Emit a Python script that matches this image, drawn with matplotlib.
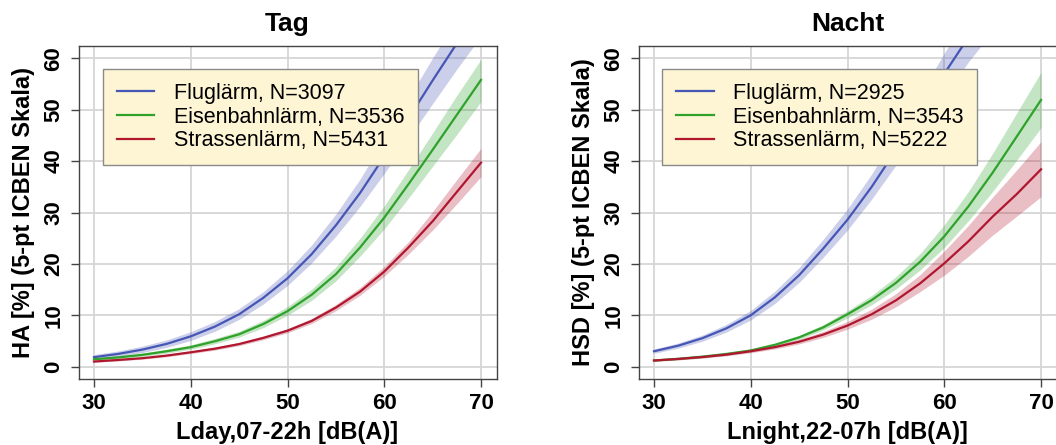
import matplotlib
matplotlib.use("Agg")
import matplotlib.pyplot as plt

plt.rcParams["font.family"] = ["Liberation Sans", "DejaVu Sans"]

# Pegel (dB) – gemeinsame Stützstellen
pegel = [30, 32.5, 35, 37.5, 40, 42.5, 45, 47.5, 50, 52.5, 55, 57.5, 60, 62.5, 65, 67.5, 70]

# Tag: HA [%]
tag_flug = [1.85, 2.48, 3.32, 4.43, 5.9, 7.8, 10.2, 13.4, 17.2, 21.9, 27.5, 33.8, 40.9, 48.3, 55.7, 62.9, 69.6]
tag_flug_lo = [1.45, 2.0, 2.75, 3.75, 5.1, 6.9, 9.2, 12.2, 15.8, 20.2, 25.4, 31.2, 37.6, 44.4, 51.2, 57.9, 64.3]
tag_flug_hi = [2.35, 3.05, 4.0, 5.2, 6.8, 8.8, 11.3, 14.6, 18.7, 23.7, 29.7, 36.5, 44.3, 52.2, 60.1, 67.6, 74.4]

tag_bahn = [1.44, 1.8, 2.3, 3.0, 3.8, 4.95, 6.3, 8.3, 10.8, 14.0, 18.0, 23.2, 29.0, 35.5, 42.2, 49.0, 55.8]
tag_bahn_lo = [1.2, 1.52, 1.98, 2.63, 3.38, 4.45, 5.75, 7.6, 10.0, 12.9, 16.7, 21.5, 26.8, 32.8, 39.0, 45.2, 51.6]
tag_bahn_hi = [1.7, 2.1, 2.65, 3.4, 4.25, 5.5, 6.9, 9.0, 11.7, 15.1, 19.4, 25.0, 31.3, 38.3, 45.5, 52.8, 59.8]

tag_strasse = [1.0, 1.3, 1.65, 2.15, 2.8, 3.5, 4.4, 5.6, 7.0, 8.9, 11.5, 14.6, 18.5, 23.2, 28.3, 34.0, 39.7]
tag_strasse_lo = [0.85, 1.12, 1.45, 1.92, 2.55, 3.22, 4.1, 5.25, 6.6, 8.4, 10.9, 13.9, 17.6, 21.9, 26.6, 31.7, 37.0]
tag_strasse_hi = [1.15, 1.48, 1.86, 2.4, 3.07, 3.8, 4.72, 5.97, 7.4, 9.4, 12.1, 15.4, 19.5, 24.3, 30.2, 36.4, 42.5]

# Nacht: HSD [%]
nacht_flug = [3.0, 4.08, 5.54, 7.47, 10.0, 13.5, 17.8, 23.0, 28.6, 35.0, 42.1, 49.5, 57.0, 64.1, 70.7, 76.0, 81.0]
nacht_flug_lo = [2.6, 3.6, 4.95, 6.75, 9.1, 12.3, 16.4, 21.3, 26.6, 32.6, 39.2, 46.0, 52.8, 59.3, 65.3, 70.8, 75.8]
nacht_flug_hi = [3.45, 4.6, 6.15, 8.25, 10.95, 14.7, 19.3, 24.8, 30.7, 37.5, 45.1, 53.0, 61.0, 68.6, 75.6, 81.5, 86.3]

nacht_bahn = [1.2, 1.53, 1.95, 2.48, 3.15, 4.25, 5.7, 7.65, 10.2, 12.95, 16.3, 20.4, 25.35, 31.2, 37.75, 44.8, 51.9]
nacht_bahn_lo = [1.02, 1.32, 1.72, 2.22, 2.88, 3.93, 5.3, 7.15, 9.5, 12.05, 15.1, 18.8, 23.2, 28.4, 34.1, 40.2, 46.5]
nacht_bahn_hi = [1.4, 1.76, 2.2, 2.76, 3.45, 4.6, 6.1, 8.2, 10.9, 13.85, 17.5, 22.0, 27.6, 34.1, 41.5, 49.4, 57.3]

nacht_strasse = [1.2, 1.5, 1.87, 2.35, 3.0, 3.8, 4.85, 6.25, 8.0, 10.2, 12.9, 16.2, 20.1, 24.4, 29.2, 33.6, 38.4]
nacht_strasse_lo = [1.05, 1.32, 1.66, 2.1, 2.72, 3.45, 4.42, 5.7, 7.3, 9.25, 11.65, 14.6, 17.8, 21.5, 25.6, 29.3, 33.1]
nacht_strasse_hi = [1.37, 1.7, 2.1, 2.62, 3.3, 4.18, 5.3, 6.85, 8.8, 11.2, 14.2, 17.9, 22.5, 27.5, 33.0, 38.3, 43.8]

labels_tag = ["Fluglärm, N=3097", "Eisenbahnlärm, N=3536", "Strassenlärm, N=5431"]
labels_nacht = ["Fluglärm, N=2925", "Eisenbahnlärm, N=3543", "Strassenlärm, N=5222"]

BLUE = "#4656b4"
GREEN = "#2ea22a"
RED = "#b0172f"
GRID = "#d6d6d6"
SPINE = "#444444"


def panel(ax, series, labels, title, xlabel, ylabel, leg_x):
    ax.set_axisbelow(True)
    ax.grid(True, color=GRID, lw=1.3)
    for (mid, lo, hi), col, lab in zip(series, [BLUE, GREEN, RED], labels):
        ax.fill_between(pegel, lo, hi, color=col, alpha=0.28, lw=0)
        ax.plot(pegel, mid, color=col, lw=1.6, label=lab)

    ax.set_xlim(28.4, 71.6)
    ax.set_ylim(-2.4, 62.4)
    ax.set_xticks([30, 40, 50, 60, 70])
    ax.set_yticks([0, 10, 20, 30, 40, 50, 60])
    ax.tick_params(direction="out", length=6, width=1, color=SPINE,
                   labelsize=16, pad=4)
    for t in ax.get_xticklabels():
        t.set_fontweight("bold")
    for t in ax.get_yticklabels():
        t.set_fontweight("bold")
        t.set_rotation(90)
        t.set_va("center")
    for s in ax.spines.values():
        s.set_color(SPINE)
        s.set_linewidth(1.0)

    ax.set_title(title, fontsize=19, fontweight="bold", pad=11)
    ax.set_xlabel(xlabel, fontsize=17, fontweight="bold", labelpad=5)
    ax.set_ylabel(ylabel, fontsize=17, fontweight="bold", labelpad=6)

    leg = ax.legend(loc="upper left", bbox_to_anchor=(leg_x, 0.931),
                    fontsize=15.5, frameon=True, fancybox=False,
                    facecolor="#fdf5d4", edgecolor="#8a8a8a", framealpha=1,
                    borderpad=0.65, labelspacing=0.12, handlelength=1.75,
                    handletextpad=0.9, borderaxespad=0)
    leg.get_frame().set_linewidth(1.0)


fig = plt.figure(figsize=(10.56, 4.45), dpi=100)
ax1 = fig.add_axes([78.5 / 1056, 66 / 445, 418 / 1056, 333 / 445])
ax2 = fig.add_axes([638.5 / 1056, 66 / 445, 418 / 1056, 333 / 445])

panel(ax1,
      [(tag_flug, tag_flug_lo, tag_flug_hi),
       (tag_bahn, tag_bahn_lo, tag_bahn_hi),
       (tag_strasse, tag_strasse_lo, tag_strasse_hi)],
      labels_tag, "Tag", "Lday,07-22h [dB(A)]",
      "HA [%] (5-pt ICBEN Skala)", 0.058)

panel(ax2,
      [(nacht_flug, nacht_flug_lo, nacht_flug_hi),
       (nacht_bahn, nacht_bahn_lo, nacht_bahn_hi),
       (nacht_strasse, nacht_strasse_lo, nacht_strasse_hi)],
      labels_nacht, "Nacht", "Lnight,22-07h [dB(A)]",
      "HSD [%] (5-pt ICBEN Skala)", 0.056)

fig.savefig("out.png", dpi=100)
